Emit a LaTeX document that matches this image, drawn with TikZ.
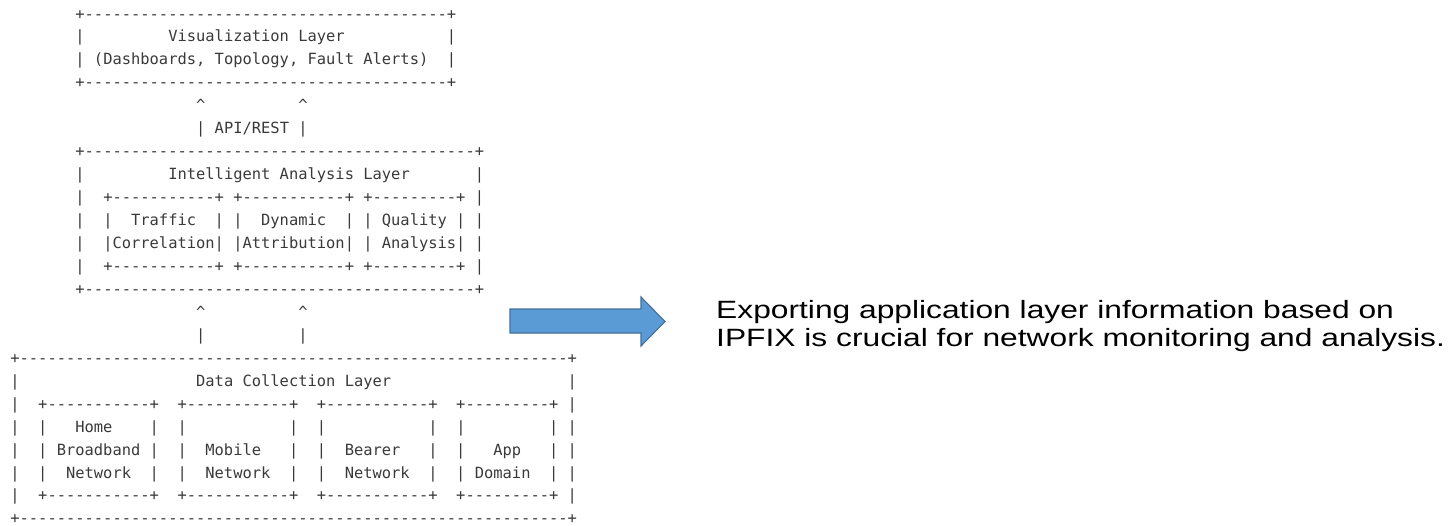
\documentclass[tikz,border=0pt]{standalone}
\usepackage{fontspec}
\newfontfamily\asciifont[Ligatures=TeXOff]{DejaVu Sans Mono}
\newfontfamily\notefont[FakeStretch=1.27]{Liberation Sans}
\definecolor{asciigray}{HTML}{3A3A3A}
\definecolor{arrowfill}{HTML}{5B9BD5}
\definecolor{arrowline}{HTML}{41719C}
% repeat a token list n times
\ExplSyntaxOn
\cs_new:Npn \asciirpt #1#2 { \prg_replicate:nn {#1} {#2} }
\ExplSyntaxOff
% column width and row pitch of the monospaced grid (in pt)
\newcommand\colw{9.29}
\newcommand\rowh{22.95}
% \asciirow{name}{column}{row}{text}
\newcommand\asciirow[4]{%
  \node[asciitext] (#1) at ({10.355+#2*\colw},{-19.0-#3*\rowh}) {#4};}
\newcommand\cfx{\textasciicircum}
\begin{document}
\begin{tikzpicture}[x=1pt,y=1pt,
  asciitext/.style={font=\asciifont\fontsize{15.43}{18}\selectfont,
    text=asciigray, anchor=base west, inner sep=0pt, outer sep=0pt},
  notetext/.style={font=\notefont\fontsize{25}{28.5}\selectfont,
    text=black, anchor=base west, inner sep=0pt},
  blockarrow/.style={fill=arrowfill, draw=arrowline, line width=1.1pt, line join=miter}]
\fill[white] (0,0) rectangle (1451,-525);
\useasboundingbox (0,0) rectangle (1451,-525);

% visualization layer
\asciirow{r1}{7}{0}{+\asciirpt{39}{-}+}
\asciirow{r2}{7}{1}{|\asciirpt{9}{~}Visualization~Layer\asciirpt{11}{~}|}
\asciirow{r3}{7}{2}{|~(Dashboards,~Topology,~Fault~Alerts)~~|}
\asciirow{r4}{7}{3}{+\asciirpt{39}{-}+}
% API link
\asciirow{r5}{20}{4}{\cfx\asciirpt{10}{~}\cfx}
\asciirow{r6}{20}{5}{|~API/REST~|}
% intelligent analysis layer
\asciirow{r7}{7}{6}{+\asciirpt{42}{-}+}
\asciirow{r8}{7}{7}{|\asciirpt{9}{~}Intelligent~Analysis~Layer\asciirpt{7}{~}|}
\asciirow{r9}{7}{8}{|~~+\asciirpt{11}{-}+~+\asciirpt{11}{-}+~+\asciirpt{9}{-}+~|}
\asciirow{r10}{7}{9}{|~~|~~Traffic~~|~|~~Dynamic~~|~|~Quality~|~|}
\asciirow{r11}{7}{10}{|~~|Correlation|~|Attribution|~|~Analysis|~|}
\asciirow{r12}{7}{11}{|~~+\asciirpt{11}{-}+~+\asciirpt{11}{-}+~+\asciirpt{9}{-}+~|}
\asciirow{r13}{7}{12}{+\asciirpt{42}{-}+}
% upward link
\asciirow{r14}{20}{13}{\cfx\asciirpt{10}{~}\cfx}
\asciirow{r15}{20}{14}{|\asciirpt{10}{~}|}
% data collection layer
\asciirow{r16}{0}{15}{+\asciirpt{59}{-}+}
\asciirow{r17}{0}{16}{|\asciirpt{19}{~}Data~Collection~Layer\asciirpt{19}{~}|}
\asciirow{r18}{0}{17}{|~~+\asciirpt{11}{-}+~~+\asciirpt{11}{-}+~~+\asciirpt{11}{-}+~~+\asciirpt{9}{-}+~|}
\asciirow{r19}{0}{18}{|~~|~~~Home~~~~|~~|\asciirpt{11}{~}|~~|\asciirpt{11}{~}|~~|\asciirpt{9}{~}|~|}
\asciirow{r20}{0}{19}{|~~|~Broadband~|~~|~~Mobile~~~|~~|~~Bearer~~~|~~|~~~App~~~|~|}
\asciirow{r21}{0}{20}{|~~|~~Network~~|~~|~~Network~~|~~|~~Network~~|~~|~Domain~~|~|}
\asciirow{r22}{0}{21}{|~~+\asciirpt{11}{-}+~~+\asciirpt{11}{-}+~~+\asciirpt{11}{-}+~~+\asciirpt{9}{-}+~|}
\asciirow{r23}{0}{22}{+\asciirpt{59}{-}+}

% block arrow
\draw[blockarrow] (510,-309) -- (641,-309) -- (641,-297) -- (665,-321.5)
  -- (641,-346) -- (641,-333) -- (510,-333) -- cycle;

% note
\node[notetext] (note1) at (716,-318) {Exporting application layer information based on};
\node[notetext] (note2) at (716,-346.5) {IPFIX is crucial for network monitoring and analysis.};
\end{tikzpicture}
\end{document}
